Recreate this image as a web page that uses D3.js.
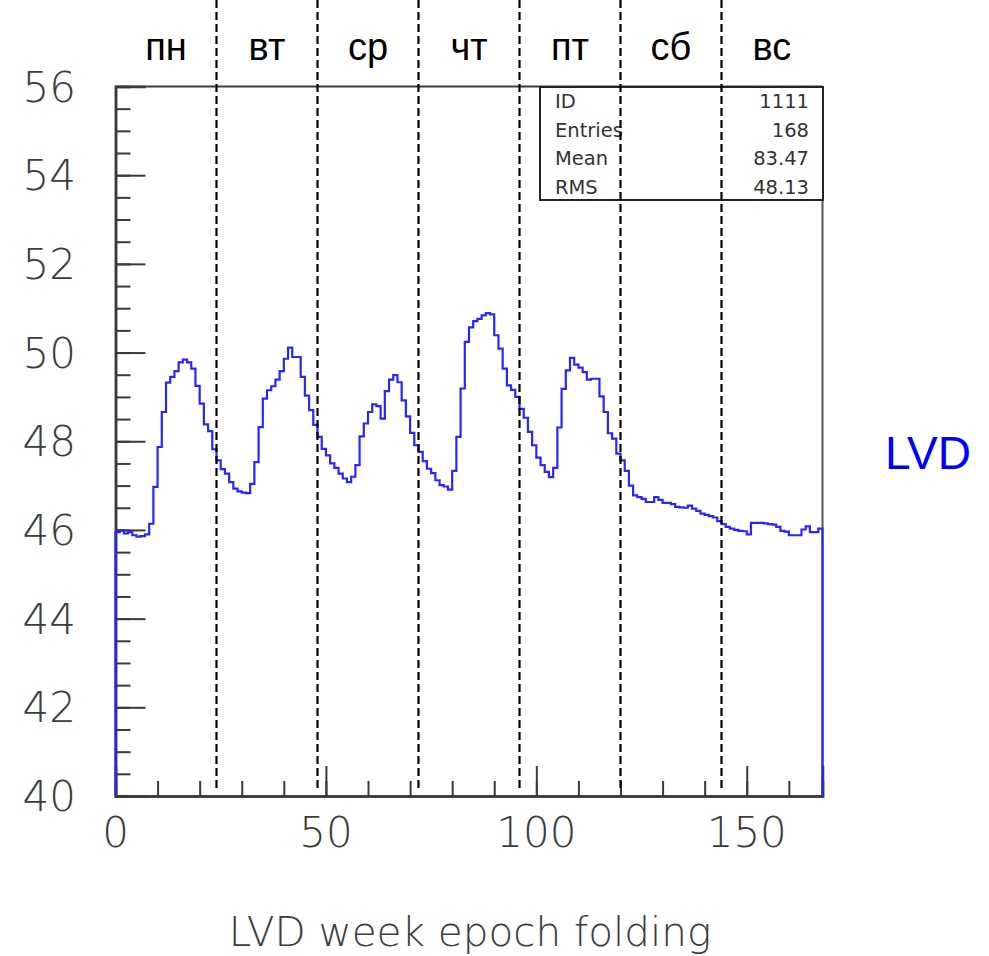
<!DOCTYPE html>
<html>
<head>
<meta charset="utf-8">
<script src="https://cdn.jsdelivr.net/npm/d3@7"></script>
<style>
  html, body { margin: 0; padding: 0; background: #fff; }
  svg { display: block; }
  .thin { font-family: "DejaVu Sans ExtraLight", "DejaVu Sans"; font-weight: 200; }
</style>
</head>
<body>
<svg id="chart" width="989" height="956"></svg>
<script>
// Hourly rate folded over one week (168 one-hour bins)
const rates = [
  45.95, 45.99, 45.92, 45.95, 45.88, 45.85, 45.86, 45.90, 46.14, 46.97,
  47.87, 48.66, 49.32, 49.45, 49.58, 49.78, 49.84, 49.78, 49.64, 49.25,
  48.85, 48.38, 48.23, 47.82, 47.57, 47.37, 47.27, 47.08, 46.93, 46.87,
  46.84, 46.83, 47.04, 47.53, 48.32, 48.96, 49.15, 49.24, 49.39, 49.58,
  49.86, 50.11, 49.90, 49.90, 49.45, 49.03, 48.70, 48.37, 48.10, 47.83,
  47.68, 47.50, 47.40, 47.27, 47.16, 47.08, 47.20, 47.46, 48.11, 48.40,
  48.66, 48.83, 48.79, 48.51, 49.13, 49.39, 49.49, 49.33, 48.92, 48.56,
  48.19, 47.91, 47.76, 47.55, 47.38, 47.28, 47.12, 47.01, 46.98, 46.91,
  47.33, 48.10, 49.19, 50.24, 50.57, 50.71, 50.76, 50.84, 50.89, 50.86,
  50.39, 50.09, 49.64, 49.26, 49.16, 49.00, 48.73, 48.53, 48.21, 47.91,
  47.63, 47.46, 47.31, 47.19, 47.40, 48.31, 49.18, 49.60, 49.88, 49.73,
  49.66, 49.56, 49.39, 49.41, 49.41, 49.01, 48.66, 48.18, 48.06, 47.72,
  47.57, 47.33, 47.00, 46.78, 46.74, 46.70, 46.63, 46.63, 46.74, 46.68,
  46.61, 46.61, 46.58, 46.52, 46.51, 46.50, 46.55, 46.48, 46.43, 46.37,
  46.34, 46.31, 46.28, 46.20, 46.13, 46.07, 46.03, 46.00, 45.98, 45.97,
  45.90, 46.16, 46.16, 46.16, 46.15, 46.13, 46.12, 46.07, 45.98, 45.96,
  45.88, 45.88, 45.88, 46.01, 46.08, 45.95, 45.95, 46.03
];

const dayNames = ["пн", "вт", "ср", "чт", "пт", "сб", "вс"];
const dayStarts = [0, 24, 48, 72, 96, 120, 144];

const xTicksMajor = [0, 50, 100, 150];
const xTicksMinor = d3.range(0, 170, 10);
const yTicksMajor = [40, 42, 44, 46, 48, 50, 52, 54, 56];
const yTicksMinor = d3.range(40, 56.01, 0.5);

const statLabels = ["ID", "Entries", "Mean", "RMS"];
const statValues = ["1111", "168", "83.47", "48.13"];

const xTitle = "LVD week epoch folding";
const seriesName = "LVD";

const svg = d3.select("#chart");
const plotLeft = 115.5, plotRight = 822.5, plotTop = 86.5, plotBottom = 796;

const x = d3.scaleLinear().domain([0, 168]).range([plotLeft, plotRight]);
const y = d3.scaleLinear().domain([40, 56]).range([plotBottom, plotTop]);

const axisColor = "#3a3a3a";
const labelColor = "#3c3c3c";

// frame: top and right edges
svg.append("line").attr("x1", plotLeft).attr("x2", plotRight).attr("y1", plotTop).attr("y2", plotTop)
  .attr("stroke", axisColor).attr("stroke-width", 2);
svg.append("line").attr("x1", plotRight).attr("x2", plotRight).attr("y1", plotTop).attr("y2", plotBottom)
  .attr("stroke", "#555").attr("stroke-width", 2);

// left axis with inward ticks
const yAxisMinor = d3.axisRight(y).tickValues(yTicksMinor).tickSize(15).tickFormat("");
const yAxisMajor = d3.axisRight(y).tickValues(yTicksMajor).tickSize(30).tickFormat("");
[yAxisMinor, yAxisMajor].forEach(ax => {
  const g = svg.append("g").attr("transform", `translate(${plotLeft},0)`).call(ax);
  g.select(".domain").attr("stroke", axisColor).attr("stroke-width", 2.5);
  g.selectAll(".tick line").attr("stroke", axisColor).attr("stroke-width", 2);
});

// bottom axis with inward ticks
const xAxisMinor = d3.axisTop(x).tickValues(xTicksMinor).tickSize(15).tickFormat("");
const xAxisMajor = d3.axisTop(x).tickValues(xTicksMajor).tickSize(30).tickFormat("");
[xAxisMinor, xAxisMajor].forEach(ax => {
  const g = svg.append("g").attr("transform", `translate(0,${plotBottom})`).call(ax);
  g.select(".domain").attr("stroke", axisColor).attr("stroke-width", 2.5);
  g.selectAll(".tick line").attr("stroke", axisColor).attr("stroke-width", 2);
});

// tick labels
svg.append("g").selectAll("text").data(yTicksMajor).join("text")
  .attr("class", "thin")
  .attr("x", 76).attr("y", d => y(d)).attr("dy", "0.36em")
  .attr("text-anchor", "end")
  .attr("font-size", 42)
  .attr("fill", labelColor).text(d => d);

svg.append("g").selectAll("text").data(xTicksMajor).join("text")
  .attr("class", "thin")
  .attr("x", d => x(d)).attr("y", 847)
  .attr("text-anchor", "middle")
  .attr("font-size", 42)
  .attr("fill", labelColor).text(d => d);

svg.append("text")
  .attr("class", "thin")
  .attr("x", 470).attr("y", 946)
  .attr("text-anchor", "middle")
  .attr("font-size", 40.5)
  .attr("fill", labelColor).text(xTitle);

// histogram outline
const pts = [[0, 40]].concat(rates.map((v, i) => [i, v]), [[168, rates[rates.length - 1]], [168, 40]]);
const line = d3.line().x(d => x(d[0])).y(d => y(d[1])).curve(d3.curveStepAfter);
svg.append("path").attr("d", line(pts))
  .attr("fill", "none").attr("stroke", "#2626ff").attr("stroke-width", 2.2)
  .attr("stroke-linejoin", "miter");

// statistics box
const box = { x0: 540, x1: 823, y0: 87, y1: 200 };
svg.append("rect").attr("x", box.x0).attr("y", box.y0)
  .attr("width", box.x1 - box.x0).attr("height", box.y1 - box.y0)
  .attr("fill", "#fff").attr("stroke", "#222").attr("stroke-width", 2);
const rowY = i => 101 + i * 28.5;
svg.append("g").selectAll("text").data(statLabels).join("text")
  .attr("x", 555).attr("y", (d, i) => rowY(i)).attr("dy", "0.36em")
  .attr("font-family", "DejaVu Sans").attr("font-size", 19.5)
  .attr("fill", "#333").text(d => d);
svg.append("g").selectAll("text").data(statValues).join("text")
  .attr("x", 809).attr("y", (d, i) => rowY(i)).attr("dy", "0.36em")
  .attr("text-anchor", "end")
  .attr("font-family", "DejaVu Sans").attr("font-size", 19.5)
  .attr("fill", "#333").text(d => d);

// day boundaries
svg.append("g").selectAll("line").data(dayStarts.slice(1)).join("line")
  .attr("x1", d => x(d)).attr("x2", d => x(d))
  .attr("y1", 0).attr("y2", 790)
  .attr("stroke", "#000").attr("stroke-width", 2.2)
  .attr("stroke-dasharray", "8,4");

// day names
svg.append("g").selectAll("text").data(dayNames).join("text")
  .attr("x", (d, i) => x(dayStarts[i] + 12)).attr("y", 60)
  .attr("text-anchor", "middle")
  .attr("font-family", "Liberation Sans").attr("font-size", 38)
  .attr("fill", "#000").text(d => d);

// series name
svg.append("text")
  .attr("x", 928).attr("y", 469)
  .attr("text-anchor", "middle")
  .attr("font-family", "Liberation Sans").attr("font-size", 46)
  .attr("fill", "#0000ff").text(seriesName);
</script>
</body>
</html>
